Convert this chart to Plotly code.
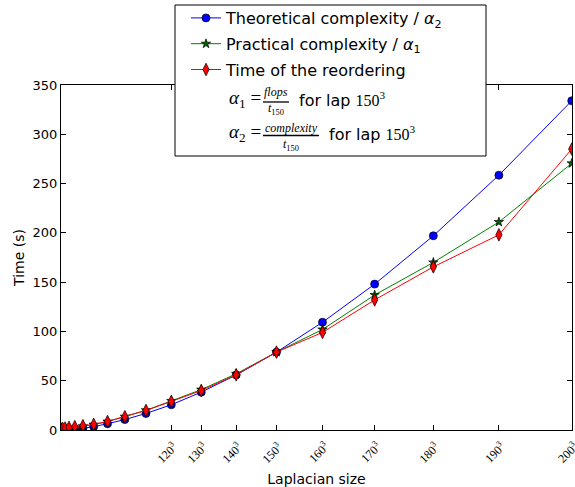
import plotly.graph_objects as go

# ---- data ----
sizes = [20, 30, 40, 50, 60, 70, 80, 90, 100, 110, 120, 130, 140, 150, 160, 170, 180, 190, 200]
theoretical = [0.003, 0.03, 0.11, 0.33, 0.8, 1.7, 3.4, 6.4, 10.6, 16.8, 25.6, 38.4, 55.8, 79, 109.3, 148, 197, 258.5, 334]
practical = [0.1, 0.3, 0.8, 1.5, 2.5, 3.8, 5.5, 8.6, 13.5, 20, 29.5, 41, 57, 79, 102, 137, 170, 211, 270.5]
reorder_time = [1.0, 1.5, 2.0, 2.7, 3.4, 4.4, 5.7, 8.6, 13.5, 19.8, 29, 40, 56, 79, 99, 132, 165.5, 198, 285]
tick_sizes = [120, 130, 140, 150, 160, 170, 180, 190, 200]
series_names = ["Theoretical complexity / <i>α</i><sub>2</sub>",
                "Practical complexity / <i>α</i><sub>1</sub>",
                "Time of the reordering"]

W, H = 575, 487
L, R, T, B = 61, 3, 85, 57
PW, PH = W - L - R, H - T - B

def px(xp):
    return (xp - L) / PW

def py(yp):
    return (H - B - yp) / PH

x_vals = [n ** 3 for n in sizes]
tick_vals = [n ** 3 for n in tick_sizes]

fig = go.Figure()
fig.add_trace(go.Scatter(
    x=x_vals, y=theoretical, mode="lines+markers", name=series_names[0],
    legendgroup="a",
    line=dict(color="#0000ff", width=1),
    marker=dict(symbol="circle", size=8, color="#0000ff", line=dict(color="black", width=0.7)),
    cliponaxis=True))
fig.add_trace(go.Scatter(
    x=x_vals, y=practical, mode="lines+markers", name=series_names[1],
    legendgroup="b",
    line=dict(color="#008000", width=1),
    marker=dict(symbol="star", size=7, color="#006400", line=dict(color="black", width=0.7)),
    cliponaxis=True))
fig.add_trace(go.Scatter(
    x=x_vals, y=reorder_time, mode="lines+markers", name=series_names[2],
    legendgroup="c",
    line=dict(color="#ff0000", width=1),
    marker=dict(symbol="diamond-tall", size=9, color="#ff0000", line=dict(color="black", width=0.7)),
    cliponaxis=True))

serif = "Liberation Serif"
sans = "DejaVu Sans"

# legend frame
fig.add_shape(type="rect", xref="paper", yref="paper",
              x0=px(175), x1=px(486), y0=py(156), y1=py(5),
              line=dict(color="black", width=1), fillcolor="white", layer="above")

annos = []
for row_y, sub, num, num_x, bar0, bar1, num_y, bar_y, den_y, for_x in [
        (99, "1", "flops", 276, 263, 289, 92, 102, 109.5, 297),
        (133, "2", "complexity", 291, 263, 319, 128, 135.5, 145, 327)]:
    annos.append(dict(x=px(227), y=py(row_y), xref="paper", yref="paper",
                      text=f"<i>α</i><sub>{sub}</sub> =", showarrow=False,
                      xanchor="left", yanchor="middle",
                      font=dict(family=serif, size=19, color="black")))
    annos.append(dict(x=px(num_x), y=py(num_y), xref="paper", yref="paper",
                      text=f"<i>{num}</i>", showarrow=False,
                      xanchor="center", yanchor="middle",
                      font=dict(family=serif, size=12, color="black")))
    annos.append(dict(x=px(num_x), y=py(den_y), xref="paper", yref="paper",
                      text="<i>t</i><sub>150</sub>", showarrow=False,
                      xanchor="center", yanchor="middle",
                      font=dict(family=serif, size=12, color="black")))
    annos.append(dict(x=px(for_x), y=py(row_y), xref="paper", yref="paper",
                      text=f"for lap <span style=\"font-family:'{serif}'\">150<sup>3</sup></span>",
                      showarrow=False, xanchor="left", yanchor="middle",
                      font=dict(family=sans, size=16, color="black")))
    fig.add_shape(type="line", xref="paper", yref="paper",
                  x0=px(bar0), x1=px(bar1), y0=py(bar_y), y1=py(bar_y),
                  line=dict(color="black", width=1.3), layer="above")

# rotated x tick labels, centred under their ticks (matplotlib style)
for n, v in zip(tick_sizes, tick_vals):
    annos.append(dict(x=v, y=py(437), xref="x", yref="paper",
                      text=f"{n}<sup>3</sup>", showarrow=False, textangle=-45,
                      xanchor="center", yanchor="top", xshift=-4,
                      font=dict(family=serif, size=12, color="black")))

fig.update_layout(
    width=W, height=H,
    margin=dict(l=L, r=R, t=T, b=B, autoexpand=False),
    paper_bgcolor="white", plot_bgcolor="white",
    font=dict(family=sans, size=13, color="black"),
    showlegend=True,
    legend=dict(x=px(186), y=py(1), xanchor="left", yanchor="top",
                bgcolor="rgba(0,0,0,0)", borderwidth=0,
                font=dict(family=sans, size=16, color="black"),
                tracegroupgap=2, itemwidth=30),
    annotations=annos,
    xaxis=dict(range=[0, 200 ** 3 * 1.0005], tickvals=tick_vals,
               showticklabels=False,
               ticks="inside", ticklen=5, tickcolor="black",
               showline=True, linecolor="black", linewidth=1, mirror="ticks",
               showgrid=False, zeroline=False, automargin=False,
               title=dict(text="Laplacian size", font=dict(family=sans, size=14), standoff=45)),
    yaxis=dict(range=[0, 350], tickvals=[0, 50, 100, 150, 200, 250, 300, 350],
               ticks="inside", ticklen=5, tickcolor="black",
               tickfont=dict(family=sans, size=13),
               showline=True, linecolor="black", linewidth=1, mirror="ticks",
               showgrid=False, zeroline=False, automargin=False,
               title=dict(text="Time (s)", font=dict(family=sans, size=14), standoff=4)),
)

fig.write_html("out.html", config={"displayModeBar": False})

# remove the default page margin so the figure sits at the window's top-left corner
with open("out.html", encoding="utf-8") as f:
    html = f.read()
html = html.replace("<body>", '<body style="margin:0;padding:0;">', 1)
with open("out.html", "w", encoding="utf-8") as f:
    f.write(html)
